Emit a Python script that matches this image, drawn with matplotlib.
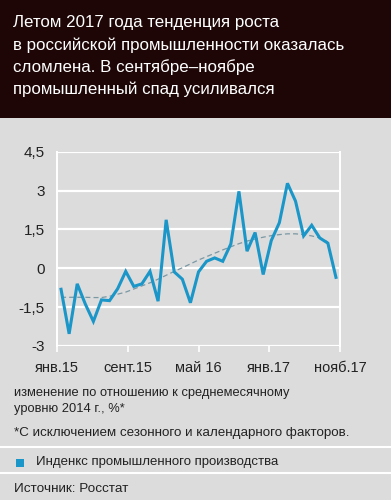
import numpy as np
import matplotlib.pyplot as plt
from matplotlib.patches import Rectangle
from matplotlib.lines import Line2D

# monthly index, Jan 2015 .. Nov 2017
values = [-0.81, -2.53, -0.6, -1.38, -2.05, -1.22, -1.25, -0.79, -0.12, -0.7,
          -0.6, -0.12, -1.27, 1.87, -0.14, -0.42, -1.33, -0.14, 0.27, 0.4,
          0.27, 0.94, 2.97, 0.66, 1.38, -0.24, 1.07, 1.76, 3.28, 2.59,
          1.25, 1.66, 1.17, 0.97, -0.35]
trend = [-1.12, -1.12, -1.12, -1.12, -1.13, -1.13, -1.08, -1.0, -0.92, -0.8,
         -0.68, -0.56, -0.42, -0.27, -0.12, 0.02, 0.17, 0.32, 0.45, 0.58,
         0.71, 0.83, 0.95, 1.05, 1.13, 1.2, 1.26, 1.3, 1.33, 1.33,
         1.3, 1.25, 1.17, 1.02]
x_labels = ["янв.15", "сент.15", "май 16", "янв.17", "нояб.17"]
y_ticks = [-3, -1.5, 0, 1.5, 3, 4.5]
y_labels = ["-3", "-1,5", "0", "1,5", "3", "4,5"]

title_lines = ["Летом 2017 года тенденция роста",
               "в российской промышленности оказалась",
               "сломлена. В сентябре–ноябре",
               "промышленный спад усиливался"]

BG = "#dcdcdc"
HEAD = "#1e0606"
BLUE = "#1a96c8"
TXT = "#222222"

plt.rcParams['font.family'] = ['Liberation Sans', 'DejaVu Sans']

fig = plt.figure(figsize=(3.91, 5), dpi=100)
fig.patch.set_facecolor(BG)


def fx(px):
    return px / 391


def fy(px):
    return 1 - px / 500


# header
fig.patches.append(Rectangle((0, fy(118)), 1, 118 / 500, transform=fig.transFigure,
                             facecolor=HEAD, edgecolor="none", zorder=0))
for i, line in enumerate(title_lines):
    fig.text(fx(13), fy(23 + 22 * i), line, color="white", fontsize=12.2,
             va="center", ha="left")

ax = fig.add_axes([fx(57), fy(346), (340 - 57) / 391, (346 - 151.7) / 500])
ax.set_facecolor(BG)
x = np.arange(len(values))
ax.plot(np.arange(len(trend)), trend, color="#7a98a4", lw=0.9, ls=(0, (4, 2.5)), zorder=3)
ax.plot(x, values, color=BLUE, lw=2.2, zorder=4, solid_joinstyle="miter")

ax.set_xlim(-0.5, len(values) - 0.5)
ax.set_ylim(-3, 4.5)
ax.set_yticks(y_ticks)
ax.set_yticklabels(y_labels)
ax.set_xticks(np.linspace(-0.5, len(values) - 0.5, len(x_labels)))
ax.set_xticklabels(x_labels)
ax.grid(axis="y", color="white", lw=1.6)
ax.set_axisbelow(True)
for s in ["top", "bottom"]:
    ax.spines[s].set_visible(False)
for s in ["left", "right"]:
    ax.spines[s].set_color("white")
    ax.spines[s].set_linewidth(1.4)
ax.tick_params(axis="y", length=0, pad=9, labelsize=11, labelcolor=TXT)
ax.tick_params(axis="x", length=4, width=1.2, color="white", pad=7,
               labelsize=10.5, labelcolor=TXT)

fig.text(fx(14), fy(393), "изменение по отношению к среднемесячному",
         color=TXT, fontsize=9.3, va="center", ha="left")
fig.text(fx(14), fy(409), "уровню 2014 г., %*",
         color=TXT, fontsize=9.3, va="center", ha="left")
fig.text(fx(14), fy(433), "*С исключением сезонного и календарного факторов.",
         color=TXT, fontsize=9.6, va="center", ha="left")

for yy in [447, 473]:
    fig.add_artist(Line2D([0, 1], [fy(yy)] * 2, transform=fig.transFigure,
                          color="white", lw=1.5))
fig.patches.append(Rectangle((fx(16), fy(467)), 8 / 391, 8 / 500, transform=fig.transFigure,
                             facecolor=BLUE, edgecolor="none"))
fig.text(fx(36), fy(462.5), "Инденкс промышленного производства",
         color=TXT, fontsize=9.5, va="center", ha="left")
fig.text(fx(14), fy(489), "Источник: Росстат",
         color=TXT, fontsize=9.7, va="center", ha="left")

fig.savefig("out.png", dpi=100, facecolor=BG)
